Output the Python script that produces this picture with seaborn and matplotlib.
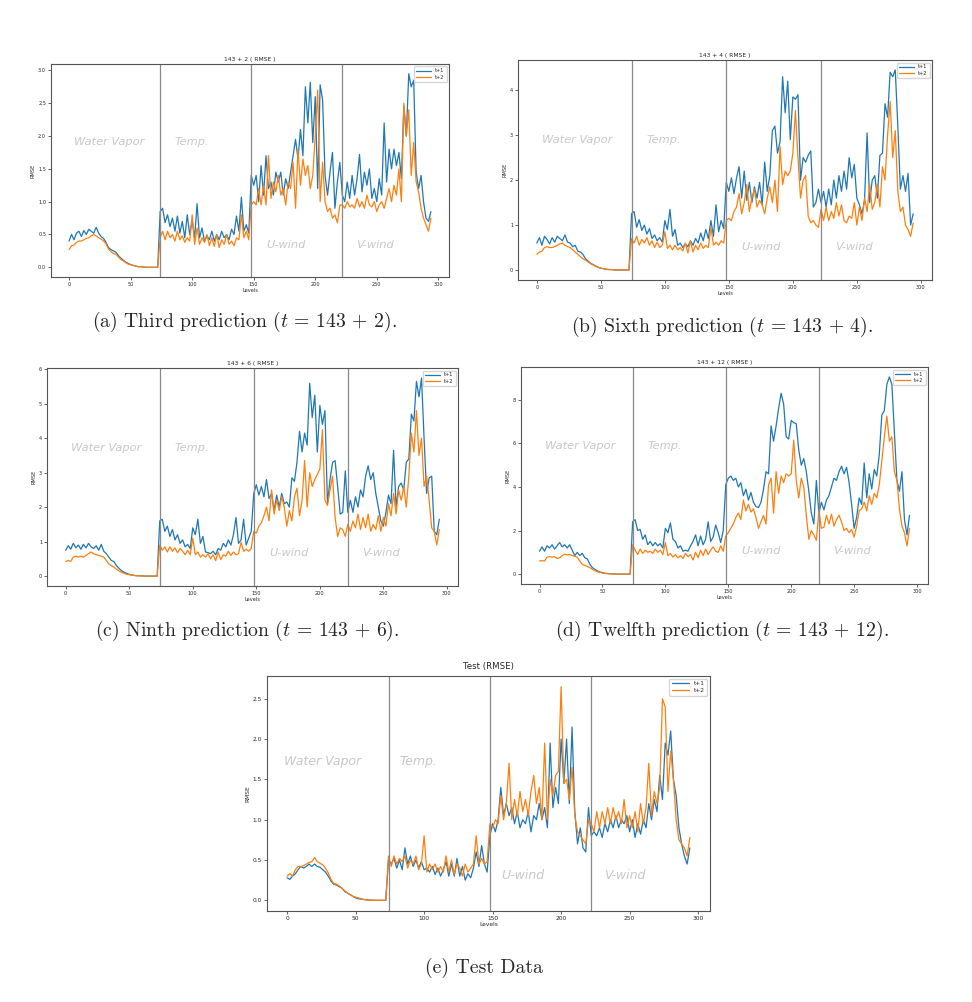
import numpy as np
import pandas as pd
import seaborn as sns
import matplotlib.pyplot as plt

# levels 0..294, every second level
levels = np.arange(0, 296, 2)
boundaries = [74, 148, 222]
regions = ["Water Vapor", "Temp.", "U-wind", "V-wind"]
series_names = ["t+1", "t+2"]

# ---- (a) 143 + 2 ----
a_t1 = [0.40, 0.50, 0.42, 0.52, 0.55, 0.47, 0.56, 0.50, 0.58, 0.55, 0.52, 0.61, 0.52, 0.47, 0.44, 0.38, 0.30, 0.27, 0.25, 0.23, 0.18, 0.14, 0.11, 0.08, 0.06, 0.04, 0.03, 0.02, 0.01, 0.01, 0.005, 0, 0, 0, 0, 0, 0,
        0.85, 0.90, 0.68, 0.80, 0.62, 0.75, 0.55, 0.78, 0.52, 0.70, 0.45, 0.80, 0.50, 0.72, 0.45, 0.97, 0.45, 0.60, 0.40, 0.48, 0.42, 0.55, 0.40, 0.50, 0.42, 0.55, 0.45, 0.50, 0.42, 0.58, 0.50, 0.78, 0.55, 1.07, 0.55, 0.65, 0.52,
        1.40, 1.25, 1.40, 1.00, 1.55, 1.10, 1.70, 1.20, 1.30, 1.10, 1.45, 1.30, 1.45, 1.10, 1.35, 1.20, 1.45, 1.70, 1.95, 1.65, 2.10, 1.70, 2.75, 2.20, 2.82, 1.90, 2.60, 1.20, 2.78, 2.55, 1.40, 1.10, 1.45, 1.75, 0.90, 1.30, 1.60,
        1.10, 1.00, 1.30, 1.05, 1.40, 1.10, 1.35, 1.72, 1.15, 1.45, 1.25, 1.50, 1.05, 1.20, 1.00, 1.35, 1.10, 2.20, 1.30, 1.80, 1.50, 1.80, 1.55, 1.75, 1.35, 2.45, 2.00, 2.95, 2.75, 2.85, 1.45, 1.20, 1.40, 1.00, 0.75, 0.70, 0.85]
a_t2 = [0.27, 0.33, 0.34, 0.38, 0.40, 0.40, 0.42, 0.44, 0.45, 0.48, 0.50, 0.48, 0.45, 0.43, 0.40, 0.36, 0.28, 0.24, 0.21, 0.20, 0.16, 0.12, 0.10, 0.07, 0.05, 0.04, 0.03, 0.02, 0.01, 0.01, 0.005, 0, 0, 0, 0, 0, 0,
        0.45, 0.55, 0.42, 0.55, 0.45, 0.50, 0.40, 0.55, 0.42, 0.48, 0.38, 0.45, 0.40, 0.80, 0.35, 0.60, 0.35, 0.45, 0.38, 0.50, 0.33, 0.45, 0.32, 0.50, 0.30, 0.42, 0.35, 0.50, 0.35, 0.40, 0.33, 0.45, 0.42, 0.80, 0.45, 0.55, 0.42,
        0.95, 1.00, 0.95, 1.20, 0.95, 1.25, 0.95, 1.70, 1.05, 1.30, 1.15, 1.40, 1.10, 1.20, 0.95, 1.30, 1.20, 1.60, 0.90, 1.80, 1.25, 1.65, 1.40, 1.55, 1.20, 1.40, 2.00, 2.70, 1.00, 1.60, 1.00, 0.85, 0.90, 0.75, 0.80, 0.68, 0.95,
        0.95, 0.90, 1.00, 0.92, 0.95, 0.90, 1.05, 0.92, 1.00, 0.90, 1.10, 0.95, 0.92, 1.00, 0.85, 0.95, 1.00, 0.90, 1.05, 1.20, 1.00, 1.25, 1.10, 1.50, 1.00, 2.50, 2.00, 2.40, 1.40, 1.90, 1.30, 1.15, 0.90, 0.75, 0.65, 0.55, 0.75]

# ---- (b) 143 + 4 ----
b_t1 = [0.60, 0.72, 0.55, 0.75, 0.68, 0.58, 0.72, 0.62, 0.75, 0.70, 0.65, 0.78, 0.62, 0.60, 0.52, 0.55, 0.42, 0.40, 0.35, 0.25, 0.20, 0.15, 0.12, 0.09, 0.06, 0.04, 0.03, 0.02, 0.01, 0.01, 0.005, 0, 0, 0, 0, 0, 0,
        1.25, 1.30, 0.95, 1.12, 0.88, 1.00, 0.80, 0.92, 0.70, 0.78, 0.65, 0.72, 0.62, 1.10, 0.90, 1.35, 0.75, 0.90, 0.55, 0.60, 0.50, 0.58, 0.52, 0.65, 0.55, 0.70, 0.60, 0.82, 0.65, 0.90, 0.70, 1.10, 0.75, 1.45, 0.85, 1.10, 0.92,
        1.95, 1.75, 2.05, 1.70, 2.05, 2.30, 1.60, 2.20, 1.55, 1.95, 1.50, 1.85, 1.60, 1.95, 1.45, 2.40, 1.75, 2.10, 3.10, 3.20, 2.60, 2.85, 4.30, 3.50, 4.20, 2.90, 3.85, 3.80, 3.90, 2.00, 2.50, 2.40, 2.55, 2.65, 1.40, 1.50, 1.80,
        1.50, 1.75, 1.40, 1.80, 1.45, 2.00, 1.60, 2.10, 1.75, 2.20, 1.80, 2.50, 2.05, 2.35, 1.60, 1.45, 1.25, 1.55, 3.05, 1.50, 2.00, 2.10, 1.60, 2.55, 2.60, 3.70, 3.40, 4.40, 4.30, 4.45, 3.20, 1.80, 2.10, 1.75, 2.15, 1.00, 1.25]
b_t2 = [0.35, 0.40, 0.42, 0.50, 0.52, 0.50, 0.50, 0.52, 0.55, 0.58, 0.60, 0.55, 0.52, 0.50, 0.45, 0.40, 0.35, 0.30, 0.25, 0.22, 0.18, 0.14, 0.11, 0.08, 0.06, 0.04, 0.03, 0.02, 0.01, 0.01, 0.005, 0, 0, 0, 0, 0, 0,
        0.70, 0.60, 0.75, 0.55, 0.68, 0.60, 0.72, 0.55, 0.65, 0.50, 0.62, 0.50, 0.55, 0.85, 0.48, 0.55, 0.45, 0.55, 0.45, 0.50, 0.42, 0.60, 0.38, 0.65, 0.40, 0.55, 0.45, 0.60, 0.48, 0.55, 0.50, 0.95, 0.55, 0.62, 0.55, 0.65, 0.60,
        1.10, 1.15, 1.10, 1.30, 1.40, 1.70, 1.25, 1.50, 1.90, 1.30, 1.60, 1.80, 1.40, 1.55, 1.45, 1.25, 1.60, 1.85, 1.50, 2.00, 1.30, 2.75, 1.90, 2.20, 2.10, 2.20, 2.60, 3.55, 2.50, 1.60, 2.00, 2.10, 1.20, 1.05, 1.10, 1.00, 0.95,
        1.35, 1.10, 1.40, 1.10, 1.30, 1.15, 1.50, 1.20, 1.45, 1.10, 1.05, 1.20, 1.15, 1.50, 1.00, 1.40, 1.10, 1.60, 1.30, 1.90, 1.35, 1.50, 1.90, 1.40, 2.30, 2.00, 3.00, 3.75, 2.50, 3.10, 1.75, 1.30, 1.40, 1.00, 0.90, 0.75, 1.05]

# ---- (c) 143 + 6 ----
c_t1 = [0.75, 0.88, 0.78, 0.95, 0.82, 0.90, 0.78, 0.92, 0.82, 0.95, 0.85, 0.80, 0.88, 0.75, 0.92, 0.72, 0.65, 0.55, 0.45, 0.42, 0.30, 0.22, 0.16, 0.11, 0.08, 0.05, 0.03, 0.02, 0.01, 0.01, 0.005, 0, 0, 0, 0, 0, 0,
        1.60, 1.65, 1.30, 1.45, 1.15, 1.35, 1.05, 1.20, 0.95, 1.05, 0.85, 0.92, 0.80, 1.40, 1.20, 1.65, 0.95, 1.15, 0.70, 0.68, 0.65, 0.72, 0.62, 0.80, 0.75, 0.95, 0.85, 1.05, 0.90, 1.20, 1.70, 0.95, 1.05, 1.65, 0.90, 1.10, 1.30,
        2.40, 2.65, 2.35, 2.60, 2.30, 2.80, 2.25, 2.40, 1.90, 2.35, 2.00, 2.40, 2.10, 2.15, 2.00, 2.85, 2.75, 3.30, 4.20, 3.60, 4.15, 3.80, 5.60, 4.60, 5.25, 3.60, 4.95, 4.40, 4.80, 2.10, 2.80, 3.30, 3.35, 2.60, 1.80, 1.85, 3.05,
        1.85, 2.20, 1.85, 2.30, 2.00, 2.50, 2.30, 2.90, 3.20, 2.80, 3.00, 2.40, 2.00, 1.60, 1.45, 1.85, 2.35, 2.10, 3.65, 2.00, 2.60, 2.70, 2.50, 3.30, 3.40, 4.70, 4.50, 5.65, 5.20, 5.75, 4.00, 2.40, 2.85, 2.90, 1.30, 1.20, 1.65]
c_t2 = [0.42, 0.45, 0.43, 0.55, 0.58, 0.55, 0.58, 0.55, 0.60, 0.65, 0.70, 0.65, 0.62, 0.60, 0.58, 0.55, 0.45, 0.35, 0.30, 0.26, 0.20, 0.15, 0.11, 0.08, 0.05, 0.04, 0.03, 0.02, 0.01, 0.01, 0.005, 0, 0, 0, 0, 0, 0,
        0.90, 0.75, 0.85, 0.70, 0.85, 0.72, 0.82, 0.68, 0.80, 0.72, 0.62, 0.75, 0.62, 1.10, 0.62, 0.70, 0.55, 0.62, 0.55, 0.65, 0.50, 0.62, 0.45, 0.70, 0.48, 0.62, 0.58, 0.72, 0.60, 0.70, 0.62, 0.65, 0.98, 0.72, 0.78, 0.72, 0.80,
        1.30, 1.25, 1.45, 1.55, 1.75, 2.00, 1.60, 2.50, 1.80, 2.20, 1.90, 2.30, 2.00, 1.45, 1.90, 1.60, 2.30, 2.55, 1.75, 2.20, 3.35, 2.00, 3.00, 2.60, 2.80, 2.95, 3.10, 4.25, 2.20, 2.05, 2.50, 2.90, 1.70, 1.15, 1.40, 1.35, 1.15,
        1.50, 1.30, 1.60, 1.40, 1.80, 1.35, 1.70, 1.40, 1.80, 1.30, 1.50, 1.35, 1.75, 1.30, 1.70, 1.45, 2.10, 1.75, 2.40, 1.80, 2.50, 2.20, 2.60, 2.00, 2.90, 4.15, 3.60, 4.80, 3.50, 4.00, 2.60, 2.90, 2.20, 1.40, 1.30, 0.90, 1.35]

# ---- (d) 143 + 12 ----
d_t1 = [1.05, 1.25, 1.05, 1.30, 1.20, 1.35, 1.15, 1.30, 1.45, 1.25, 1.35, 1.20, 1.35, 1.10, 0.85, 1.00, 0.85, 0.95, 0.75, 0.70, 0.45, 0.30, 0.22, 0.15, 0.10, 0.07, 0.04, 0.03, 0.02, 0.01, 0.01, 0, 0, 0, 0, 0, 0,
        2.40, 2.50, 2.00, 2.05, 1.60, 1.80, 1.35, 1.50, 1.30, 1.45, 1.30, 1.40, 1.20, 2.10, 1.90, 2.35, 1.60, 1.50, 1.20, 1.30, 1.05, 1.10, 1.05, 1.30, 1.50, 1.80, 1.30, 1.75, 1.35, 1.60, 2.40, 1.50, 1.70, 2.25, 1.90, 1.45, 2.00,
        4.10, 4.40, 4.50, 4.30, 4.40, 4.00, 4.20, 3.60, 3.90, 3.40, 3.75, 3.30, 3.10, 3.05, 3.30, 3.90, 4.70, 4.60, 6.80, 6.10, 6.80, 7.60, 8.30, 7.80, 6.30, 6.20, 7.05, 6.95, 6.90, 5.70, 5.00, 5.30, 4.70, 3.80, 2.80, 2.30, 4.30,
        2.80, 3.30, 2.95, 3.40, 3.60, 4.00, 4.40, 4.30, 4.70, 4.95, 4.60, 4.90, 4.20, 3.20, 2.10, 2.60, 3.50, 3.20, 5.10, 3.50, 4.60, 3.90, 4.80, 4.50, 5.50, 7.30, 7.50, 8.70, 9.05, 8.70, 6.50, 4.30, 3.80, 4.70, 2.50, 1.80, 2.70]
d_t2 = [0.60, 0.62, 0.60, 0.78, 0.80, 0.78, 0.80, 0.72, 0.75, 0.85, 0.92, 0.88, 0.90, 0.85, 0.82, 0.78, 0.60, 0.45, 0.40, 0.35, 0.30, 0.22, 0.16, 0.11, 0.08, 0.05, 0.03, 0.02, 0.01, 0.01, 0.005, 0, 0, 0, 0, 0, 0,
        1.35, 1.10, 0.90, 1.15, 0.95, 1.10, 1.00, 1.05, 0.95, 1.15, 1.00, 1.10, 0.90, 1.45, 0.85, 0.95, 0.78, 0.90, 0.75, 0.85, 0.72, 0.95, 0.80, 0.90, 0.65, 1.00, 0.75, 1.10, 0.85, 1.15, 0.90, 1.10, 1.25, 1.05, 1.00, 1.30, 1.05,
        1.75, 1.90, 2.10, 2.30, 2.60, 2.80, 2.50, 3.40, 2.90, 3.20, 2.85, 3.00, 2.60, 2.10, 2.40, 2.70, 2.30, 4.10, 4.40, 2.80, 4.70, 3.70, 4.50, 4.20, 4.60, 4.50, 4.60, 6.15, 4.30, 3.50, 4.40, 4.00, 2.70, 1.60, 2.00, 1.80, 1.55,
        2.90, 2.10, 2.15, 2.70, 2.30, 2.75, 2.20, 2.50, 2.70, 2.40, 2.00, 2.10, 1.90, 2.05, 1.70, 2.20, 2.90, 3.00, 3.30, 2.90, 3.60, 3.20, 3.70, 3.50, 4.10, 5.20, 6.30, 7.25, 6.10, 6.30, 4.70, 4.30, 3.00, 2.20, 1.90, 1.30, 2.10]

# ---- (e) test ----
e_t1 = [0.28, 0.26, 0.30, 0.33, 0.38, 0.42, 0.40, 0.42, 0.45, 0.42, 0.45, 0.42, 0.41, 0.38, 0.35, 0.30, 0.24, 0.20, 0.19, 0.17, 0.15, 0.11, 0.09, 0.07, 0.05, 0.03, 0.02, 0.015, 0.01, 0.005, 0.003, 0, 0, 0, 0, 0, 0,
        0.50, 0.45, 0.52, 0.40, 0.50, 0.38, 0.65, 0.45, 0.55, 0.42, 0.50, 0.40, 0.48, 0.38, 0.40, 0.35, 0.42, 0.32, 0.40, 0.30, 0.38, 0.48, 0.30, 0.45, 0.30, 0.52, 0.30, 0.42, 0.25, 0.33, 0.28, 0.40, 0.60, 0.42, 0.68, 0.45, 0.35,
        0.80, 0.95, 0.85, 1.00, 1.40, 1.05, 1.20, 1.05, 1.15, 0.95, 1.10, 0.90, 1.00, 0.95, 1.10, 0.85, 1.05, 1.00, 1.20, 1.00, 1.15, 0.90, 1.95, 1.15, 1.40, 1.20, 2.00, 1.45, 2.00, 1.20, 2.15, 1.10, 0.70, 0.90, 0.65, 0.60, 1.15,
        0.80, 0.85, 0.80, 0.90, 0.78, 0.95, 0.85, 1.00, 0.90, 1.05, 0.90, 1.00, 0.95, 1.05, 0.85, 1.00, 0.78, 0.95, 0.82, 1.00, 0.90, 1.20, 1.00, 1.25, 1.10, 1.55, 1.25, 1.95, 1.80, 2.10, 1.50, 1.30, 0.90, 0.70, 0.55, 0.45, 0.65]
e_t2 = [0.30, 0.33, 0.30, 0.38, 0.42, 0.42, 0.43, 0.45, 0.47, 0.48, 0.53, 0.48, 0.46, 0.44, 0.40, 0.34, 0.26, 0.21, 0.20, 0.18, 0.15, 0.12, 0.09, 0.07, 0.05, 0.04, 0.03, 0.02, 0.01, 0.005, 0.003, 0, 0, 0, 0, 0, 0,
        0.55, 0.42, 0.55, 0.45, 0.52, 0.48, 0.55, 0.40, 0.50, 0.45, 0.55, 0.38, 0.45, 0.80, 0.35, 0.45, 0.38, 0.45, 0.35, 0.42, 0.35, 0.55, 0.35, 0.50, 0.32, 0.45, 0.40, 0.30, 0.45, 0.35, 0.40, 0.45, 0.80, 0.45, 0.52, 0.45, 0.48,
        0.95, 0.90, 1.00, 0.95, 1.30, 1.00, 1.20, 1.70, 1.00, 1.25, 1.05, 1.35, 1.10, 1.25, 1.05, 1.35, 1.55, 1.20, 1.40, 1.00, 1.95, 1.00, 1.50, 1.30, 1.55, 1.60, 2.65, 1.45, 1.50, 1.25, 1.65, 1.05, 0.85, 0.80, 0.75, 0.70, 1.00,
        0.95, 0.85, 1.10, 0.90, 1.10, 0.95, 1.15, 0.95, 1.15, 1.00, 1.10, 0.95, 1.25, 0.90, 1.05, 0.90, 1.10, 0.85, 1.20, 0.95, 1.15, 1.70, 1.05, 1.35, 1.20, 1.40, 2.50, 2.40, 1.35, 1.85, 1.50, 1.00, 0.75, 0.70, 0.65, 0.55, 0.78]

titles = ["143 + 2 ( RMSE )", "143 + 4 ( RMSE )", "143 + 6 ( RMSE )", "143 + 12 ( RMSE )", "Test (RMSE)"]
captions = ["(a) Third prediction ($t$ = 143 + 2).",
            "(b) Sixth prediction ($t$ = 143 + 4).",
            "(c) Ninth prediction ($t$ = 143 + 6).",
            "(d) Twelfth prediction ($t$ = 143 + 12).",
            "(e) Test Data"]
panel_data = [(a_t1, a_t2), (b_t1, b_t2), (c_t1, c_t2), (d_t1, d_t2), (e_t1, e_t2)]

sns.set_style("ticks")
plt.rcParams["font.family"] = ["DejaVu Sans"]
plt.rcParams["mathtext.fontset"] = "cm"

fig = plt.figure(figsize=(9.72, 10.02), dpi=100)
W, H = 972, 1002
# axes boxes in pixels: left, top, right, bottom
boxes = [(51, 64, 449, 277), (518, 60, 932, 280), (47, 368, 458, 586),
         (521, 367, 928, 584), (267, 676, 710, 911)]
cap_pos = [(244, 322), (722, 327), (247, 631), (722, 631), (484, 968)]
small = [True, True, True, True, False]

for i, (t1, t2) in enumerate(panel_data):
    l, t, r, b = boxes[i]
    ax = fig.add_axes([l / W, 1 - b / H, (r - l) / W, (b - t) / H])
    n = len(levels)
    df = pd.DataFrame({"Levels": np.tile(levels, 2),
                       "RMSE": np.array(t1 + t2, dtype=float),
                       "series": [series_names[0]] * n + [series_names[1]] * n})
    sns.lineplot(data=df, x="Levels", y="RMSE", hue="series",
                 palette=["#1f77b4", "#ff7f0e"], lw=0.9, ax=ax)
    fs = 3.6 if small[i] else 4.2
    for bx in boundaries:
        ax.axvline(bx, color="#888888", lw=0.9)
    xs = [4, 86, 160, 233] if small[i] else [-2, 82, 156, 231]
    ys = [0.635, 0.635, 0.15, 0.15]
    for name, xx, yy in zip(regions, xs, ys):
        ax.text(xx, yy, name, transform=ax.get_xaxis_transform(), ha="left", va="center",
                fontsize=8.2 if small[i] else 9, style="italic", color="#c8c8c8")
    ax.set_title(titles[i], fontsize=4.3 if small[i] else 6.2, pad=2.5 if small[i] else 5)
    ax.set_xlabel("Levels", fontsize=fs, labelpad=1)
    ax.set_ylabel("RMSE", fontsize=fs, labelpad=2)
    ax.tick_params(labelsize=fs, length=2, width=0.5, pad=1.5)
    for sp in ax.spines.values():
        sp.set_color("#555555")
        sp.set_linewidth(0.8)
    handles, labels = ax.get_legend_handles_labels()
    ax.legend(handles, labels, loc="upper right", fontsize=fs, handlelength=3,
              frameon=True, edgecolor="#cccccc", fancybox=True, borderpad=0.4, labelspacing=0.3)
    cx, cy = cap_pos[i]
    fig.text(cx / W, 1 - cy / H, captions[i], ha="center", va="center",
             fontsize=14.2, family="cmr10")

fig.savefig("out.png", dpi=100, facecolor="white")
